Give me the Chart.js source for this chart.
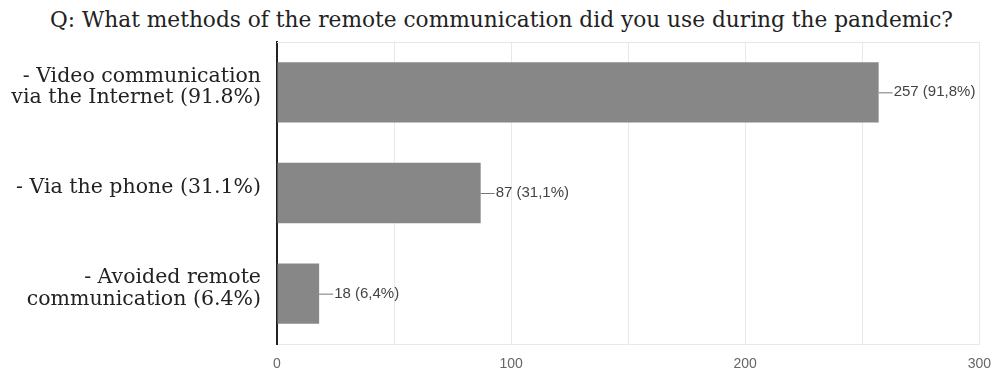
<!DOCTYPE html>
<html>
<head>
<meta charset="utf-8">
<script src="https://cdn.jsdelivr.net/npm/chart.js@4"></script>
<style>
  html, body { margin: 0; padding: 0; background: #fff; }
  #title {
    width: 1003px; height: 36px; line-height: 40px; text-align: center;
    font-family: "DejaVu Serif", serif; font-size: 21.7px; color: #222;
    white-space: nowrap;
  }
  #wrap { width: 1003px; height: 339px; position: relative; }
</style>
</head>
<body>
<div id="title"></div>
<div id="wrap"><canvas id="chart"></canvas></div>
<script>
// Survey answers
const categories = [
  ['- Video communication', 'via the Internet (91.8%)'],
  ['- Via the phone (31.1%)'],
  ['- Avoided remote', 'communication (6.4%)'],
];
const counts = [257, 87, 18];
const shares = ['91,8%', '31,1%', '6,4%'];
const xTicks = [0, 100, 200, 300];

const titleText = 'Q: What methods of the remote communication did you use during the pandemic?';
document.getElementById('title').textContent = titleText;

// Value labels with a short leader line
const valueLabels = {
  id: 'valueLabels',
  afterDatasetsDraw(chart) {
    const ctx = chart.ctx;
    const meta = chart.getDatasetMeta(0);
    ctx.save();
    ctx.font = '15px "Liberation Sans", Arial, sans-serif';
    ctx.fillStyle = '#444';
    ctx.strokeStyle = '#777';
    ctx.lineWidth = 1;
    ctx.textBaseline = 'middle';
    meta.data.forEach((bar, i) => {
      ctx.beginPath();
      ctx.moveTo(bar.x, bar.y + 0.5);
      ctx.lineTo(bar.x + 14, bar.y + 0.5);
      ctx.stroke();
      ctx.fillText(counts[i] + ' (' + shares[i] + ')', bar.x + 15, bar.y);
    });
    ctx.restore();
  },
};

// Light frame line on top of the plot
const topBorder = {
  id: 'topBorder',
  beforeDatasetsDraw(chart) {
    const { ctx, chartArea } = chart;
    ctx.save();
    ctx.strokeStyle = '#e6e6e6';
    ctx.lineWidth = 1;
    ctx.beginPath();
    ctx.moveTo(chartArea.left, chartArea.top + 0.5);
    ctx.lineTo(chartArea.right, chartArea.top + 0.5);
    ctx.stroke();
    ctx.restore();
  },
};

new Chart(document.getElementById('chart'), {
  type: 'bar',
  data: {
    labels: categories,
    datasets: [{
      data: counts,
      backgroundColor: '#878787',
      borderWidth: 0,
      categoryPercentage: 0.6,
      barPercentage: 1,
    }],
  },
  options: {
    indexAxis: 'y',
    responsive: true,
    maintainAspectRatio: false,
    animation: false,
    layout: { padding: { top: 6, right: 23, bottom: 0, left: 0 } },
    scales: {
      x: {
        min: 0,
        max: 300,
        afterFit: (scale) => { scale.height = 31; },
        ticks: {
          stepSize: 50,
          autoSkip: false,
          maxRotation: 0,
          padding: 12,
          color: '#666',
          font: { family: '"Liberation Sans", Arial, sans-serif', size: 14 },
          callback: (v) => (xTicks.includes(v) ? v : ''),
        },
        grid: { color: '#e8e8e8', drawTicks: false },
        border: { color: '#e8e8e8' },
      },
      y: {
        afterFit: (scale) => {
          scale.width = 277;
          scale.paddingTop = 0;
          scale.paddingBottom = 0;
        },
        ticks: {
          color: '#222',
          padding: 8,
          labelOffset: -5,
          font: { family: '"DejaVu Serif", serif', size: 20.5, lineHeight: 1.05 },
        },
        grid: { display: false },
        border: { color: '#222', width: 2 },
      },
    },
    plugins: {
      legend: { display: false },
      tooltip: { enabled: false },
      title: { display: false },
    },
  },
  plugins: [valueLabels, topBorder],
});
</script>
</body>
</html>
